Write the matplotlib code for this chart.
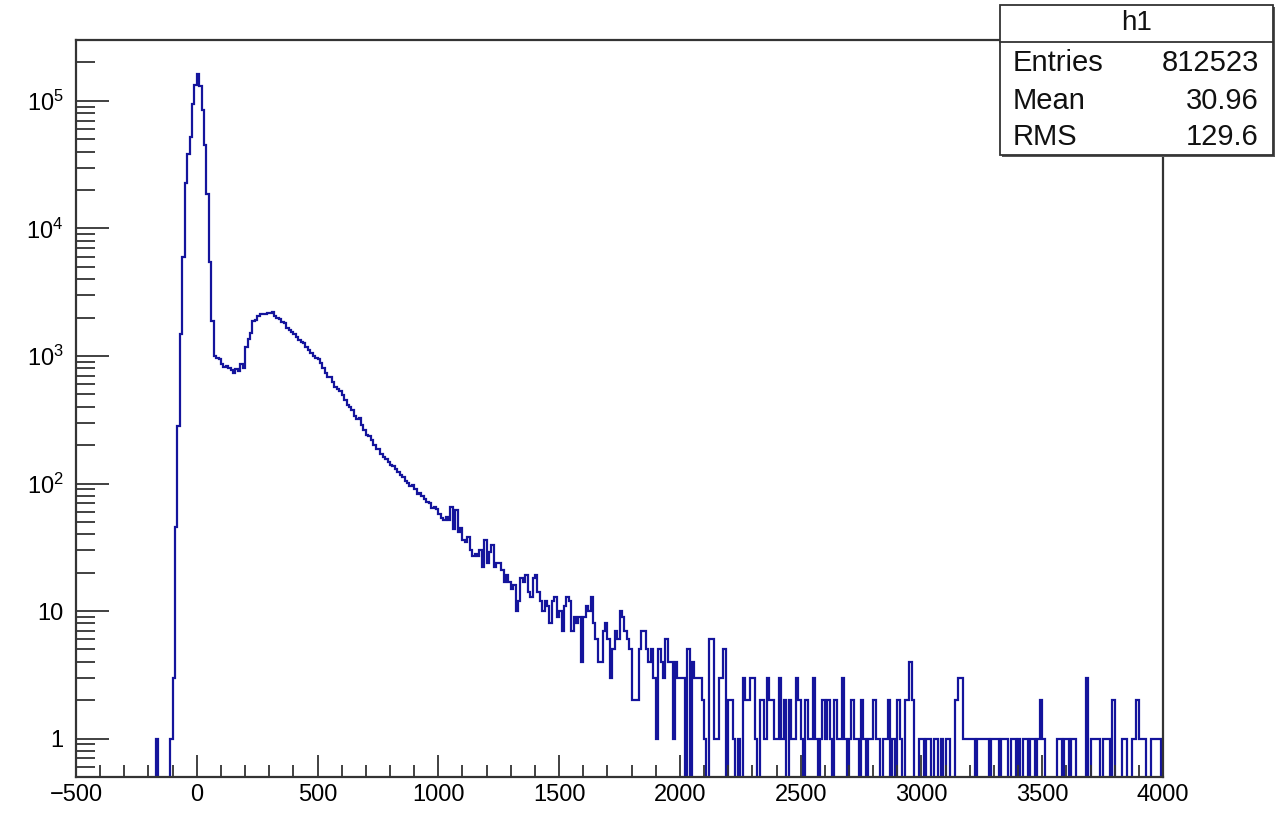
import numpy as np
import matplotlib
matplotlib.use("Agg")
import matplotlib.pyplot as plt
from matplotlib.patches import Rectangle
from matplotlib.lines import Line2D
from matplotlib.ticker import MultipleLocator, LogLocator, NullFormatter

plt.rcParams['font.family'] = ['Liberation Sans', 'DejaVu Sans']
plt.rcParams['mathtext.default'] = 'regular'

# ---------------- data ----------------
x_min, x_max, bin_width = -500, 4000, 10

counts_m500_m110 = [0, 0, 0, 0, 0, 0, 0, 0, 0, 0,
                    0, 0, 0, 0, 0, 0, 0, 0, 0, 0,
                    0, 0, 0, 0, 0, 0, 0, 0, 0, 0,
                    0, 0, 0, 1, 0, 0, 0, 0, 0, 1]
counts_m100_190 = [3, 46, 280, 1480, 6000, 22500, 38000, 52000, 94000, 132000,
                   162000, 130000, 85000, 45000, 18500, 5500, 1870, 1000, 960, 940,
                   860, 820, 830, 810, 780, 740, 790, 760, 860, 800]
counts_200_590 = [1180, 1350, 1520, 1870, 1900, 2050, 2150, 2150, 2120, 2180,
                  2170, 2230, 2050, 2000, 1950, 1850, 1800, 1650, 1600, 1550,
                  1480, 1400, 1330, 1280, 1270, 1180, 1120, 1060, 1000, 960,
                  940, 880, 800, 740, 690, 680, 620, 570, 550, 530]
counts_600_990 = [490, 450, 410, 400, 380, 340, 320, 325, 290, 265,
                  240, 235, 220, 200, 185, 186, 170, 162, 155, 148,
                  140, 136, 130, 122, 117, 112, 104, 101, 95, 97,
                  90, 82, 85, 80, 75, 72, 70, 64, 66, 63]
counts_1000_1390 = [58, 54, 52, 55, 52, 65, 44, 62, 42, 45,
                    36, 35, 38, 30, 27, 28, 27, 30, 22, 36,
                    24, 29, 33, 22, 24, 24, 21, 17, 19, 17,
                    15, 16, 10, 12, 18, 17, 19, 14, 13, 18]
counts_1400_1790 = [19, 14, 12, 10, 12, 11, 8, 12, 13, 9,
                    10, 7, 11, 13, 12, 7, 9, 8, 9, 4,
                    9, 11, 10, 13, 8, 6, 4, 4, 7, 8,
                    6, 3, 5, 7, 6, 10, 9, 7, 6, 5]
counts_1800_2190 = [2, 2, 2, 5, 7, 7, 5, 4, 5, 3,
                    1, 5, 4, 3, 6, 4, 4, 1, 4, 3,
                    3, 3, 0, 5, 0, 4, 3, 3, 3, 2,
                    1, 0, 6, 6, 1, 1, 3, 3, 5, 0]
counts_2200_2590 = [2, 2, 1, 0, 1, 0, 3, 2, 2, 3,
                    3, 1, 0, 2, 2, 1, 3, 2, 2, 1,
                    1, 3, 1, 2, 0, 2, 1, 1, 3, 2,
                    1, 0, 2, 1, 1, 3, 1, 0, 1, 2]
counts_2600_2990 = [1, 2, 1, 0, 2, 1, 1, 3, 1, 0,
                    1, 2, 1, 1, 0, 2, 1, 0, 1, 1,
                    2, 1, 1, 0, 1, 1, 2, 0, 1, 0,
                    2, 1, 0, 2, 2, 4, 2, 0, 0, 1]
counts_3000_3390 = [1, 0, 1, 1, 0, 1, 1, 0, 1, 0,
                    1, 1, 0, 0, 2, 3, 3, 1, 1, 1,
                    1, 1, 0, 1, 1, 1, 1, 1, 0, 1,
                    1, 1, 0, 1, 1, 1, 0, 1, 1, 0]
counts_3400_3790 = [1, 0, 1, 1, 0, 1, 1, 0, 1, 2,
                    1, 0, 0, 0, 0, 0, 1, 1, 0, 1,
                    1, 0, 1, 1, 0, 0, 0, 0, 3, 0,
                    1, 1, 1, 1, 0, 1, 1, 1, 0, 2]
counts_3800_3990 = [0, 0, 0, 1, 1, 0, 0, 1, 1, 2,
                    1, 1, 1, 0, 0, 1, 1, 1, 1, 0]

stats_title = "h1"
stats_names = ["Entries", "Mean", "RMS"]
stats_values = ["812523", "30.96", "129.6"]

y_tick_values = [1, 10, 100, 1000, 10000, 100000]
y_tick_labels = ["1", "10", "$10^{2}$", "$10^{3}$", "$10^{4}$", "$10^{5}$"]
x_tick_values = [-500, 0, 500, 1000, 1500, 2000, 2500, 3000, 3500, 4000]
x_tick_labels = ["\u2212500", "0", "500", "1000", "1500", "2000", "2500", "3000", "3500", "4000"]

counts = np.array(counts_m500_m110 + counts_m100_190 + counts_200_590 + counts_600_990
                  + counts_1000_1390 + counts_1400_1790 + counts_1800_2190
                  + counts_2200_2590 + counts_2600_2990 + counts_3000_3390
                  + counts_3400_3790 + counts_3800_3990, dtype=float)
n_bins = int((x_max - x_min) / bin_width)
edges = np.linspace(x_min, x_max, n_bins + 1)

# ---------------- figure ----------------
W, H = 1288, 817
fig = plt.figure(figsize=(W / 100, H / 100), dpi=100)
fig.patch.set_facecolor('white')
ax = fig.add_axes([76 / W, 1 - 777 / H, (1163 - 76) / W, (777 - 40) / H])

draw_counts = np.where(counts > 0, counts, 1e-3)
ax.stairs(draw_counts, edges, baseline=None, color='#14149c', linewidth=1.6)

ax.set_yscale('log')
ax.set_xlim(x_min, x_max)
ax.set_ylim(0.5, 3.0e5)

ax.set_xticks(x_tick_values)
ax.set_xticklabels(x_tick_labels)
ax.xaxis.set_minor_locator(MultipleLocator(100))
ax.set_yticks(y_tick_values)
ax.set_yticklabels(y_tick_labels)
ax.yaxis.set_minor_locator(LogLocator(base=10, subs=np.arange(2, 10), numticks=30))
ax.yaxis.set_minor_formatter(NullFormatter())

ax.tick_params(axis='x', which='major', direction='in', length=15.5, width=1.3,
               labelsize=17, pad=5, top=False, colors='#333333', labelcolor='black')
ax.tick_params(axis='x', which='minor', direction='in', length=9, width=1.3,
               top=False, colors='#333333')
ax.tick_params(axis='y', which='major', direction='in', length=24, width=1.3,
               labelsize=17, pad=9, right=False, colors='#333333', labelcolor='black')
ax.tick_params(axis='y', which='minor', direction='in', length=14, width=1.3,
               right=False, colors='#333333')

for side in ['left', 'bottom', 'top', 'right']:
    ax.spines[side].set_linewidth(1.6)
    ax.spines[side].set_color('#333333')

# ---------------- stats box ----------------
bx0, by0, bx1, by1 = 1000, 5, 1273, 155
shadow = Rectangle(((bx0 + 2) / W, 1 - (by1 + 2) / H), (bx1 - bx0) / W, (by1 - by0) / H,
                   transform=fig.transFigure, facecolor='#555555', edgecolor='none', zorder=9)
fig.add_artist(shadow)
box = Rectangle((bx0 / W, 1 - by1 / H), (bx1 - bx0) / W, (by1 - by0) / H,
                transform=fig.transFigure, facecolor='white', edgecolor='#333333',
                linewidth=1.3, zorder=10)
fig.add_artist(box)
fig.add_artist(Line2D([bx0 / W, bx1 / W], [1 - 42 / H, 1 - 42 / H],
                      transform=fig.transFigure, color='#333333', linewidth=1.3, zorder=11))

fig.text(1137 / W, 1 - 23 / H, stats_title, ha='center', va='center',
         fontsize=20, zorder=12, color='#111111')
row_y = [63, 101, 137]
for name, val, yy in zip(stats_names, stats_values, row_y):
    fig.text(1013 / W, 1 - yy / H, name, ha='left', va='center',
             fontsize=21, zorder=12, color='#111111')
    fig.text(1259 / W, 1 - yy / H, val, ha='right', va='center',
             fontsize=21, zorder=12, color='#111111')

fig.savefig('out.png', dpi=100, facecolor='white')
